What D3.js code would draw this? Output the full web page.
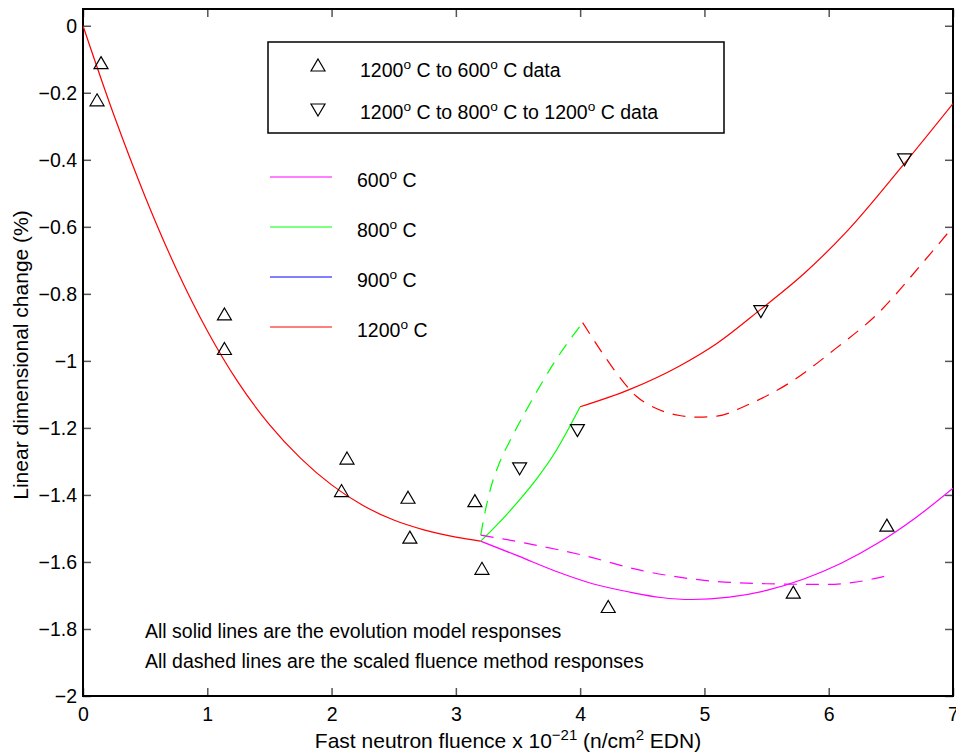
<!DOCTYPE html>
<html>
<head>
<meta charset="utf-8">
<script src="https://cdn.jsdelivr.net/npm/d3@7"></script>
<style>
  body { margin: 0; background: #fff; }
  text { font-family: "Liberation Sans", Arial, Helvetica, sans-serif; fill: #000; }
</style>
</head>
<body>
<div id="container"></div>
<script>
let w = 956;
let h = 756;

// DATA
let xTicks = [0, 1, 2, 3, 4, 5, 6, 7];
let yTicks = [0, -0.2, -0.4, -0.6, -0.8, -1, -1.2, -1.4, -1.6, -1.8, -2];

// 1200 C to 600 C data (up triangles)
let upData = [[0.145, -0.11], [0.113, -0.221], [1.138, -0.86], [1.138, -0.963],
  [2.124, -1.29], [2.08, -1.387], [2.615, -1.407], [2.63, -1.526],
  [3.153, -1.417], [3.21, -1.619], [4.226, -1.733], [5.715, -1.69], [6.468, -1.49]];
// 1200 C to 800 C to 1200 C data (down triangles)
let downData = [[3.513, -1.322], [3.978, -1.208], [5.454, -0.853], [6.61, -0.40]];

// evolution model (solid)
let red1200a = [[0, 0], [0.25, -0.268], [0.5, -0.51], [0.75, -0.725], [1.0, -0.91],
  [1.25, -1.065], [1.5, -1.19], [1.75, -1.29], [2.0, -1.37], [2.25, -1.431],
  [2.5, -1.475], [2.75, -1.505], [3.0, -1.526], [3.2, -1.538]];
let green800 = [[3.2, -1.538], [3.35, -1.482], [3.5, -1.42], [3.65, -1.352],
  [3.8, -1.272], [3.9, -1.207], [4.0, -1.137]];
let red1200b = [[4.0, -1.137], [4.4, -1.085], [4.8, -1.015], [5.1, -0.948],
  [5.45, -0.847], [5.8, -0.74], [6.15, -0.612], [6.6, -0.415], [7.0, -0.232]];
let magenta600 = [[3.2, -1.538], [3.5, -1.582], [3.82, -1.63], [4.1, -1.665],
  [4.4, -1.69], [4.65, -1.706], [4.9, -1.712], [5.2, -1.705], [5.5, -1.685],
  [5.8, -1.651], [6.1, -1.604], [6.4, -1.543], [6.7, -1.468], [7.0, -1.38]];

// scaled fluence method (dashed)
let green800Dash = [[3.2, -1.52], [3.23, -1.46], [3.28, -1.38], [3.35, -1.305],
  [3.45, -1.228], [3.6, -1.125], [3.8, -1.0], [4.02, -0.886]];
let red1200Dash = [[4.02, -0.886], [4.18, -0.977], [4.3, -1.04], [4.45, -1.105],
  [4.6, -1.14], [4.8, -1.163], [4.95, -1.168], [5.1, -1.165], [5.35, -1.131],
  [5.7, -1.062], [6.05, -0.965], [6.4, -0.857], [6.75, -0.71], [7.0, -0.6]];
let magenta600Dash = [[3.2, -1.52], [3.55, -1.543], [4.0, -1.578], [4.5, -1.626],
  [5.0, -1.655], [5.5, -1.665], [6.0, -1.667], [6.2, -1.661], [6.45, -1.643]];

let lineLegend = [
  { label: "600", color: "#ff00ff" },
  { label: "800", color: "#00ff00" },
  { label: "900", color: "#0000ff" },
  { label: "1200", color: "#ff0000" }
];

let fs = 19.5;   // body font size
let fsLabel = 21; // axis label font size

// SVG
let viz = d3.select("#container").append("svg")
    .attr("width", w)
    .attr("height", h)
    .style("background-color", "#fff");

let pLeft = 83, pRight = 953, pTop = 9, pBottom = 696;
let x = d3.scaleLinear().domain([0, 7]).range([pLeft, pRight]);
let y = d3.scaleLinear().domain([-2, 0.05]).range([pBottom, pTop]);

viz.append("clipPath").attr("id", "clip")
  .append("rect").attr("x", pLeft).attr("y", pTop)
  .attr("width", pRight - pLeft).attr("height", pBottom - pTop);

// tick label format with unicode minus
let fmt = d3.format("~g");

// axes (ticks inside, box on)
let tickStyle = g => {
  g.select(".domain").remove();
  g.selectAll(".tick line").attr("stroke", "#555").attr("stroke-width", 1.5);
  g.selectAll(".tick text").style("font-size", fs + "px").attr("fill", "#000")
    .style("font-family", "'Liberation Sans', Arial, Helvetica, sans-serif");
};

viz.append("g").attr("transform", `translate(0,${pBottom})`)
  .call(d3.axisBottom(x).tickValues(xTicks).tickFormat(fmt).tickSizeInner(-8).tickSizeOuter(0).tickPadding(11))
  .call(tickStyle);
viz.append("g").attr("transform", `translate(0,${pTop})`)
  .call(d3.axisTop(x).tickValues(xTicks).tickFormat("").tickSizeInner(-8).tickSizeOuter(0))
  .call(tickStyle);
viz.append("g").attr("transform", `translate(${pLeft},0)`)
  .call(d3.axisLeft(y).tickValues(yTicks).tickFormat(fmt).tickSizeInner(-8).tickSizeOuter(0).tickPadding(6))
  .call(tickStyle);
viz.append("g").attr("transform", `translate(${pRight},0)`)
  .call(d3.axisRight(y).tickValues(yTicks).tickFormat("").tickSizeInner(-8).tickSizeOuter(0))
  .call(tickStyle);

// frame
viz.append("rect")
  .attr("x", pLeft).attr("y", pTop)
  .attr("width", pRight - pLeft).attr("height", pBottom - pTop)
  .attr("fill", "none").attr("stroke", "#000").attr("stroke-width", 2);

// curves
let lineMaker = d3.line().x(d => x(d[0])).y(d => y(d[1])).curve(d3.curveMonotoneX);
let curves = [
  { data: red1200a, color: "#ff0000", dash: null },
  { data: red1200b, color: "#ff0000", dash: null },
  { data: green800, color: "#00ff00", dash: null },
  { data: magenta600, color: "#ff00ff", dash: null },
  { data: green800Dash, color: "#00ff00", dash: "13,9" },
  { data: red1200Dash, color: "#ff0000", dash: "13,9" },
  { data: magenta600Dash, color: "#ff00ff", dash: "13,9" }
];
viz.append("g").attr("clip-path", "url(#clip)")
  .selectAll(".curve").data(curves).enter()
  .append("path")
    .attr("class", "curve")
    .attr("d", d => lineMaker(d.data))
    .attr("fill", "none")
    .attr("stroke", d => d.color)
    .attr("stroke-width", 1.2)
    .attr("stroke-dasharray", d => d.dash);

// triangle markers
function tri(cx, cy, up) {
  let hw = 7, hh = 6;
  if (up) return `M${cx},${cy - hh}L${cx + hw},${cy + hh}L${cx - hw},${cy + hh}Z`;
  return `M${cx},${cy + hh}L${cx + hw},${cy - hh}L${cx - hw},${cy - hh}Z`;
}
viz.selectAll(".up").data(upData).enter()
  .append("path").attr("class", "up")
  .attr("d", d => tri(x(d[0]), y(d[1]), true))
  .attr("fill", "none").attr("stroke", "#000").attr("stroke-width", 1.2);
viz.selectAll(".down").data(downData).enter()
  .append("path").attr("class", "down")
  .attr("d", d => tri(x(d[0]), y(d[1]), false))
  .attr("fill", "none").attr("stroke", "#000").attr("stroke-width", 1.2);

// text with superscripts: parts = [[string, isSup], ...]
function richText(g, px, py, parts, size) {
  let t = g.append("text").attr("x", px).attr("y", py).style("font-size", size + "px");
  let wasSup = false;
  parts.forEach(p => {
    let s = t.append("tspan").text(p[0]);
    if (p[1] && !wasSup) s.attr("dy", -size * 0.42).style("font-size", (size * 0.7) + "px");
    else if (p[1]) s.style("font-size", (size * 0.7) + "px");
    else if (wasSup) s.attr("dy", size * 0.42);
    wasSup = p[1];
  });
  return t;
}

// marker legend box
let lg = viz.append("g");
lg.append("rect").attr("x", 268).attr("y", 42).attr("width", 456).attr("height", 91)
  .attr("fill", "#fff").attr("stroke", "#000").attr("stroke-width", 1.5);
lg.append("path").attr("d", tri(318, 65, true)).attr("fill", "none").attr("stroke", "#000").attr("stroke-width", 1.2);
lg.append("path").attr("d", tri(318, 110, false)).attr("fill", "none").attr("stroke", "#000").attr("stroke-width", 1.2);
richText(lg, 360, 77, [["1200", false], ["o", true], [" C to 600", false], ["o", true], [" C data", false]], fs);
richText(lg, 360, 119, [["1200", false], ["o", true], [" C to 800", false], ["o", true],
  [" C to 1200", false], ["o", true], [" C data", false]], fs);

// line legend
lineLegend.forEach((d, i) => {
  let ly = 177 + i * 50;
  viz.append("line").attr("x1", 270).attr("x2", 332).attr("y1", ly).attr("y2", ly)
    .attr("stroke", d.color).attr("stroke-width", 1.2);
  richText(viz, 357, ly + 10, [[d.label, false], ["o", true], [" C", false]], fs);
});

// notes
viz.append("text").attr("x", 145).attr("y", 638).style("font-size", fs + "px")
  .text("All solid lines are the evolution model responses");
viz.append("text").attr("x", 145).attr("y", 668).style("font-size", fs + "px")
  .text("All dashed lines are the scaled fluence method responses");

// axis labels
let xl = viz.append("text").attr("x", 508).attr("y", 748)
  .attr("text-anchor", "middle").style("font-size", fsLabel + "px");
xl.append("tspan").text("Fast neutron fluence x 10");
xl.append("tspan").text("\u221221").attr("dy", -8).style("font-size", "15px");
xl.append("tspan").text(" (n/cm").attr("dy", 8);
xl.append("tspan").text("2").attr("dy", -8).style("font-size", "15px");
xl.append("tspan").text(" EDN)").attr("dy", 8);

viz.append("text")
  .attr("transform", "translate(28,355) rotate(-90)")
  .attr("text-anchor", "middle").style("font-size", fsLabel + "px")
  .text("Linear dimensional change (%)");
</script>
</body>
</html>
